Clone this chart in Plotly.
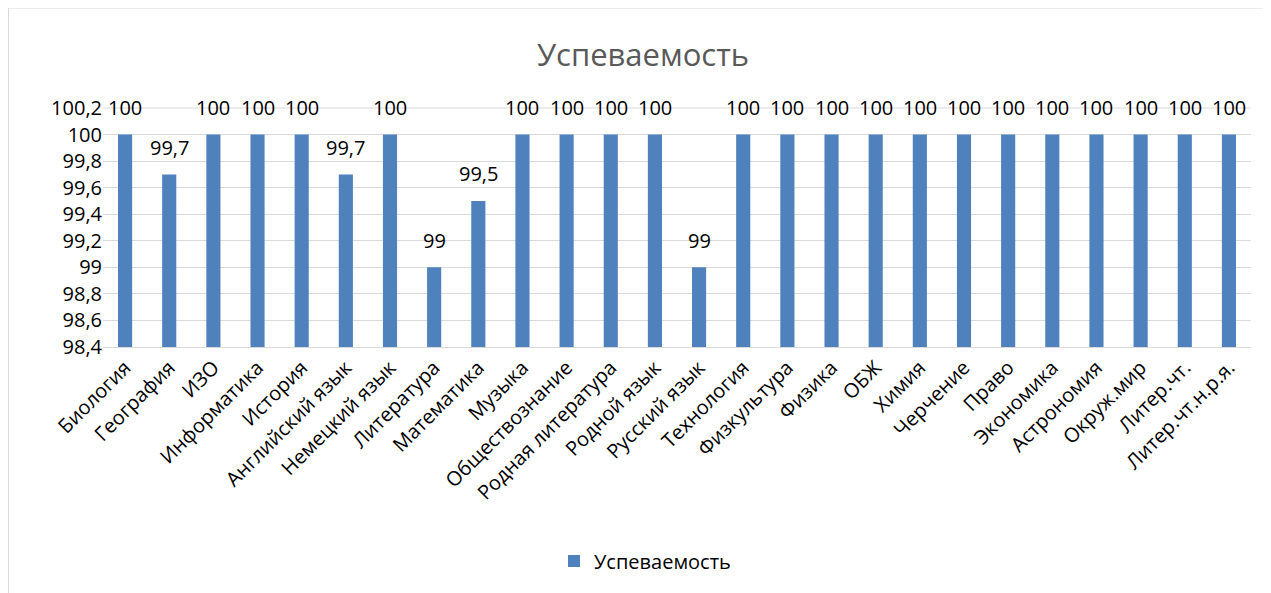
import plotly.graph_objects as go

categories = ["Биология", "География", "ИЗО", "Информатика", "История", "Английский язык",
              "Немецкий язык", "Литература", "Математика", "Музыка", "Обществознание",
              "Родная литература", "Родной язык", "Русский язык", "Технология", "Физкультура",
              "Физика", "ОБЖ", "Химия", "Черчение", "Право", "Экономика", "Астрономия",
              "Окруж.мир", "Литер.чт.", "Литер.чт.н.р.я."]
values = [100, 99.7, 100, 100, 100, 99.7, 100, 99, 99.5, 100, 100, 100, 100, 99, 100, 100,
          100, 100, 100, 100, 100, 100, 100, 100, 100, 100]
tick_vals = [98.4, 98.6, 98.8, 99, 99.2, 99.4, 99.6, 99.8, 100, 100.2]
tick_text = ["98,4", "98,6", "98,8", "99", "99,2", "99,4", "99,6", "99,8", "100", "100,2"]
series_name = "Успеваемость"
title_text = "Успеваемость"

FONT = "Open Sans"
OFF = 8  # page body margin offset
L, R, T, B = 103 - OFF, 1271 - (1251 - OFF), 108 - OFF, 593 - (347 - OFF)
PW = 1271 - L - R
PH = 593 - T - B
Y_RANGE = [tick_vals[0], tick_vals[-1]]

fig = go.Figure()
fig.add_trace(go.Bar(
    x=categories, y=values, name=series_name,
    marker=dict(color="#4f81bd", line=dict(width=0)),
    width=0.32,
))

# top gridline at the range edge (drawn as paper line so it is not clipped)
top_frac = (tick_vals[-1] - Y_RANGE[0]) / (Y_RANGE[1] - Y_RANGE[0])
fig.add_shape(type="line", xref="paper", yref="paper", x0=0, x1=1, y0=top_frac, y1=top_frac,
              line=dict(color="#d9d9d9", width=1), layer="above")

# data labels
for c, v in zip(categories, values):
    fig.add_annotation(x=c, y=v, xref="x", yref="y", text=f"{v:g}".replace(".", ","),
                       showarrow=False, yanchor="middle", yshift=27,
                       font=dict(family=FONT, size=20, color="#000000"))

fig.update_layout(
    width=1271, height=593,
    margin=dict(l=L, r=R, t=T, b=B),
    paper_bgcolor="white", plot_bgcolor="white",
    title=dict(text=title_text, x=(643 - OFF) / 1271, xanchor="center",
               y=1 - (55 - OFF) / 593, yanchor="middle",
               font=dict(family=FONT, size=31, color="#595959")),
    font=dict(family=FONT, color="#000000"),
    showlegend=True,
    legend=dict(orientation="h", x=(645 - OFF - L) / PW, xanchor="center",
                y=-(561 - 347) / PH, yanchor="middle",
                font=dict(family=FONT, size=20, color="#000000")),
    bargap=0.68,
)
fig.update_yaxes(range=Y_RANGE, tickvals=tick_vals, ticktext=tick_text,
                 showgrid=True, gridcolor="#d9d9d9", gridwidth=1, zeroline=False,
                 showline=False, ticks="", tickfont=dict(family=FONT, size=20, color="#000000"))
fig.update_xaxes(showgrid=False, showline=True, linecolor="#d9d9d9", linewidth=1, ticks="",
                 tickangle=-45, tickfont=dict(family=FONT, size=20, color="#000000"))

# chart-area frame
x0 = (0.5 - L) / PW
x1 = (1275 - OFF - L) / PW
y0 = -(600 - 347) / PH
y1 = (347 - 8) / PH
fig.add_shape(type="rect", xref="paper", yref="paper", x0=x0, x1=x1, y0=y0, y1=y1,
              line=dict(color="#d9d9d9", width=1), layer="below")

fig.write_html("out.html")
